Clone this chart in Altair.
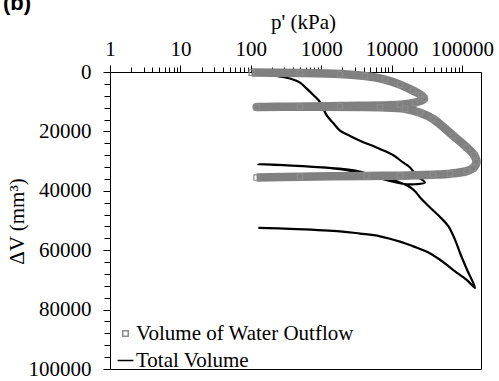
import altair as alt
import pandas as pd

# Total Volume (black line)
tv_p = [103, 135, 187, 260, 360, 500, 622, 765, 961, 1197, 1471, 1849, 2565, 3557, 6840,
        10470, 14520, 18250, 22740, 29800,
        21500, 16370, 7620, 3192, 1071, 127,
        1849, 5445, 13160, 20140, 26780, 35100, 48710, 63850, 79400, 93700, 117800, 153000,
        116700, 74500, 48710, 31800, 20330, 13160, 6840, 3557, 1849, 360, 128]
tv_v = [200, 340, 1085, 1530, 2200, 3560, 5590, 7630, 10100, 14640, 17120, 19730, 21530, 23120, 25930,
        27970, 30440, 32140, 34980, 37220,
        37800, 37800, 36100, 33290, 32140, 31020,
        32710, 34980, 37220, 39490, 42880, 45600, 48800, 51930, 56440, 60950, 66600, 72700,
        70000, 66610, 63220, 60510, 58710, 57120, 55320, 54400, 53630, 52810, 52470]

# Volume of Water Outflow (grey squares)
wo_p = [103, 500, 1849, 4190, 8060, 13160, 20140, 26200, 28860,
        21500, 13160, 1849, 121,
        500, 6840, 15500, 25300, 38730, 74500, 116700, 148000, 160700,
        143300, 116700, 67500, 38730, 13160, 4430, 500, 121]
wo_v = [200, 340, 700, 1360, 2540, 4240, 6270, 7800, 8980,
        10340, 11020, 11460, 11800,
        11700, 11860, 12370, 13730, 15760, 21420, 25360, 27970, 30340,
        32370, 33390, 34240, 34580, 34920, 34980, 35250, 35530]

series_names = ["Volume of Water Outflow", "Total Volume"]
x_major = [1, 10, 100, 1000, 10000, 100000]
x_ticks = [k * m for m in x_major for k in range(1, 10) if k * m <= 186000]
y_ticks = list(range(0, 100001, 4000))

gray_df = pd.DataFrame({"p": wo_p, "V": wo_v, "i": list(range(len(wo_p))),
                        "series": series_names[0]})
black_df = pd.DataFrame({"p": tv_p, "V": tv_v, "i": list(range(len(tv_p))),
                         "series": series_names[1]})

FONT = "Liberation Serif, Times New Roman, serif"

x_enc = alt.X(
    "p:Q",
    scale=alt.Scale(type="log", domain=[1, 186000], nice=False),
    axis=alt.Axis(
        orient="top", values=x_ticks, title="p' (kPa)",
        labelExpr="indexof([1,10,100,1000,10000,100000], datum.value) >= 0 ? format(datum.value, 'd') : ''",
        tickSize={"condition": {"test": "indexof([1,10,100,1000,10000,100000], datum.value) >= 0", "value": 7}, "value": 5},
        labelFontSize=21, labelFont=FONT, labelPadding=6, labelColor="black",
        titleFont=FONT, titleFontSize=21, titleFontWeight="normal", titleColor="black",
        titleX=193, titleY=-44, titleBaseline="alphabetic", titleAlign="center",
        grid=False, domainColor="black", tickColor="black", labelFlush=False,
        labelOverlap=False,
    ),
)
y_enc = alt.Y(
    "V:Q",
    scale=alt.Scale(domain=[0, 100000], reverse=True, nice=False),
    axis=alt.Axis(
        values=y_ticks, title="ΔV (mm³)",
        labelExpr="datum.value % 20000 == 0 ? format(datum.value, 'd') : ''",
        tickSize={"condition": {"test": "datum.value % 20000 == 0", "value": 7}, "value": 6},
        labelFontSize=21, labelFont=FONT, labelPadding=12, labelColor="black",
        titleFont=FONT, titleFontSize=21, titleFontWeight="normal", titleColor="black",
        titleX=-93, titleY=149, titleAngle=-90, titleBaseline="middle", titleAlign="center",
        grid=False, domainColor="black", tickColor="black", labelFlush=False,
        labelOverlap=False,
    ),
)

legend = alt.Legend(
    title=None, orient="none", legendX=5, legendY=251,
    labelFont=FONT, labelFontSize=21, labelColor="black", labelLimit=400,
    rowPadding=5, symbolStrokeWidth=1.5, padding=0, labelOffset=0,
)

black_line = alt.Chart(black_df).mark_line(
    color="black", strokeWidth=2.2, strokeJoin="round", interpolate="catmull-rom"
).encode(x=x_enc, y=y_enc, order="i:Q")

gray_line = alt.Chart(gray_df).mark_line(
    color="#808080", strokeWidth=8.5, strokeJoin="round", strokeCap="butt",
    interpolate="catmull-rom"
).encode(x=x_enc, y=y_enc, order="i:Q")

gray_pts = alt.Chart(gray_df).mark_point(filled=False, strokeWidth=1.2, opacity=1).encode(
    x=x_enc, y=y_enc,
    color=alt.Color("series:N", scale=alt.Scale(domain=series_names, range=["#8c8c8c", "#000000"]), legend=legend),
    shape=alt.Shape("series:N", scale=alt.Scale(domain=series_names, range=["square", "stroke"]), legend=legend),
    size=alt.Size("series:N", scale=alt.Scale(domain=series_names, range=[30, 250]), legend=legend),
)

label_b = alt.Chart(pd.DataFrame({"t": ["(b)"]})).mark_text(
    align="left", baseline="alphabetic", font="Liberation Sans", fontSize=22,
    fontWeight="bold", color="black"
).encode(text="t:N", x=alt.value(-107), y=alt.value(-62))

chart = alt.layer(black_line, gray_line, gray_pts, label_b).properties(
    width=371, height=297,
    autosize=alt.AutoSizeParams(type="none"),
    padding={"left": 110, "top": 72, "right": 18, "bottom": 12},
).configure(background="white", font=FONT).configure_view(stroke="black", strokeWidth=1)

chart.save("out.html", embed_options={"renderer": "svg", "actions": False})
